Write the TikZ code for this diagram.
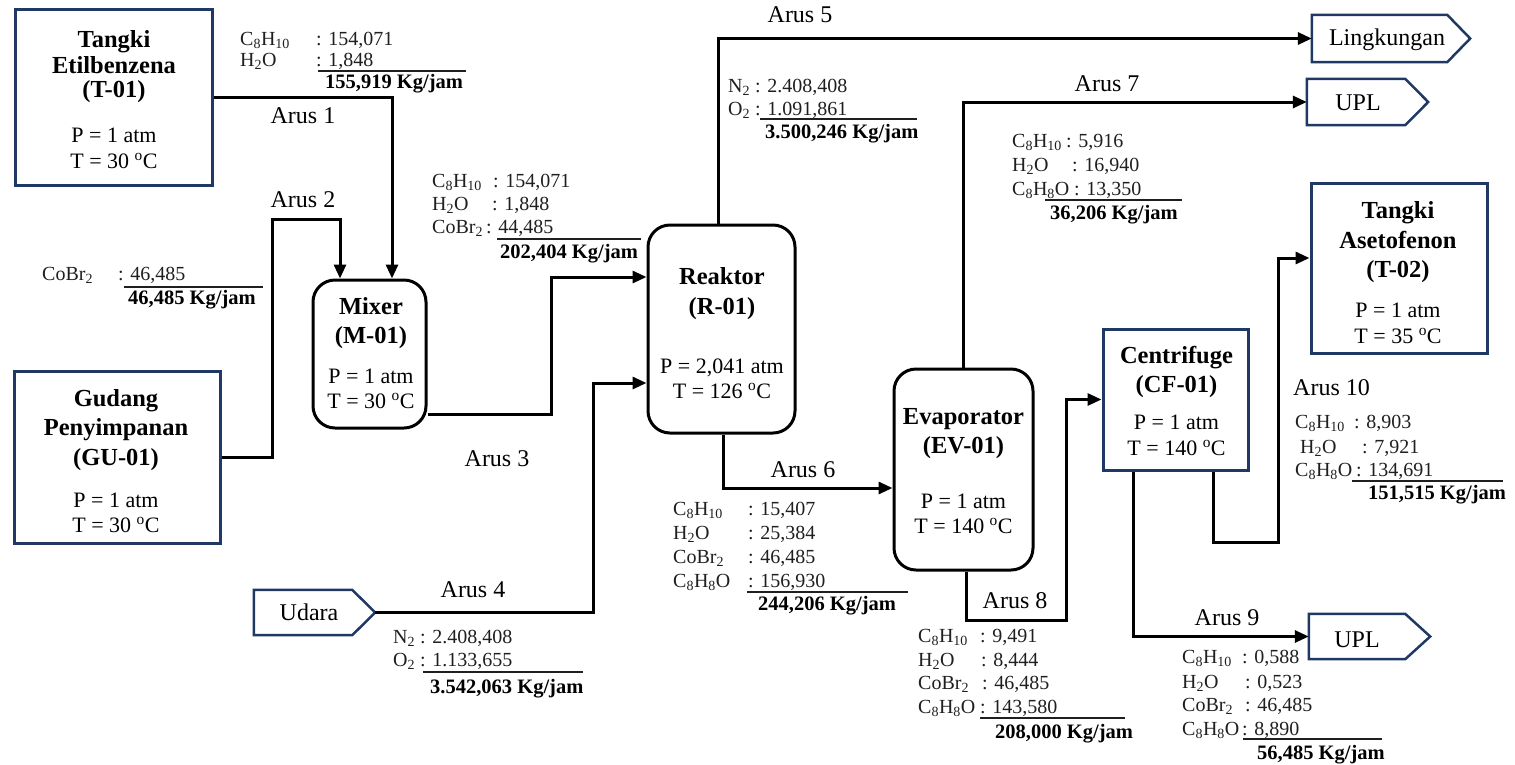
\documentclass[tikz,border=0pt]{standalone}
\usepackage{fontspec}
\setmainfont{Liberation Serif}
\usetikzlibrary{arrows.meta}
\definecolor{navy}{RGB}{32,56,100}
\newcommand\sbt[1]{\textsubscript{#1}}
\newcommand\degC{\textsuperscript{o}C}
\newcommand\drow[6]{\node[dat] (#1n) at (#2,#4) {#5}; \node[dat] (#1v) at (#3,#4) {: #6};}
\begin{document}
\begin{tikzpicture}[x=1pt,y=-1pt,
  tank/.style={draw=navy, line width=3pt, inner sep=0pt},
  unit/.style={draw=black, line width=3pt, rounded corners=22pt, inner sep=0pt},
  flow/.style={line width=3pt, -{Triangle[length=14pt,width=12pt]}},
  sig/.style={inner sep=0pt},
  sigline/.style={draw=navy, line width=2.5pt, line join=miter},
  lbl/.style={font=\fontsize{24}{28}\selectfont, inner sep=0pt, anchor=base},
  dat/.style={font=\fontsize{20}{24}\selectfont, text=black!88, inner sep=0pt, anchor=base west},
  tot/.style={font=\fontsize{20.5}{24}\selectfont\bfseries, inner sep=0pt, anchor=base west},
  ttl/.style={font=\fontsize{24.5}{28}\selectfont\bfseries, inner sep=0pt, anchor=base},
  prm/.style={font=\fontsize{22}{26}\selectfont, inner sep=0pt, anchor=base},
  uline/.style={line width=1.2pt, black!88}]
\useasboundingbox (0,0) rectangle (1515,764);

% ---------- equipment ----------
\node[tank, minimum width=197pt, minimum height=176pt] (t01) at (113.5,97) {};
\node[ttl] (t01a) at (114,47) {Tangki};
\node[ttl] (t01b) at (114,73) {Etilbenzena};
\node[ttl] (t01c) at (114,97) {(T-01)};
\node[prm] (t01d) at (114,142) {P = 1 atm};
\node[prm] (t01e) at (114,168) {T = 30 \degC};

\node[tank, minimum width=206pt, minimum height=172pt] (gu) at (117,457) {};
\node[ttl] (gua) at (116,406) {Gudang};
\node[ttl] (gub) at (116,435) {Penyimpanan};
\node[ttl] (guc) at (116,465) {(GU-01)};
\node[prm] (gud) at (116,507) {P = 1 atm};
\node[prm] (gue) at (116,532) {T = 30 \degC};

\node[unit, minimum width=113pt, minimum height=148pt] (mix) at (369.5,354) {};
\node[ttl] (mixa) at (371,314) {Mixer};
\node[ttl] (mixb) at (371,343) {(M-01)};
\node[prm] (mixc) at (371,383) {P = 1 atm};
\node[prm] (mixd) at (371,408) {T = 30 \degC};

\node[unit, minimum width=147pt, minimum height=208pt] (rea) at (721.5,329) {};
\node[ttl] (reaa) at (722,284) {Reaktor};
\node[ttl] (reab) at (722,314) {(R-01)};
\node[prm] (reac) at (722,373) {P = 2,041 atm};
\node[prm] (read) at (722,398) {T = 126 \degC};

\node[unit, minimum width=139pt, minimum height=201pt] (evap) at (963.5,469.5) {};
\node[ttl] (evapa) at (963.5,424) {Evaporator};
\node[ttl] (evapb) at (963.5,453) {(EV-01)};
\node[prm] (evapc) at (963.5,508) {P = 1 atm};
\node[prm] (evapd) at (963.5,533) {T = 140 \degC};

\node[tank, minimum width=145pt, minimum height=141pt] (cf) at (1175.5,399.5) {};
\node[ttl] (cfa) at (1176.5,363) {Centrifuge};
\node[ttl] (cfb) at (1176.5,392) {(CF-01)};
\node[prm] (cfc) at (1176.5,429) {P = 1 atm};
\node[prm] (cfd) at (1176.5,455) {T = 140 \degC};

\node[tank, minimum width=176pt, minimum height=170pt] (t02) at (1399,268) {};
\node[ttl] (t02a) at (1398,218) {Tangki};
\node[ttl] (t02b) at (1398,248) {Asetofenon};
\node[ttl] (t02c) at (1398,277) {(T-02)};
\node[prm] (t02d) at (1398,317) {P = 1 atm};
\node[prm] (t02e) at (1398,343) {T = 35 \degC};

% ---------- terminals ----------
\node[sig, minimum width=121pt, minimum height=45pt] (udara) at (314.5,612.5) {};
\draw[sigline] (udara.south west) -- (udara.north west) -- ([xshift=-23pt]udara.north east) -- (udara.east) -- ([xshift=-23pt]udara.south east) -- cycle;
\node[lbl] (udarat) at (309,620) {Udara};

\node[sig, minimum width=158pt, minimum height=47pt] (ling) at (1391,38.5) {};
\draw[sigline] (ling.south west) -- (ling.north west) -- ([xshift=-23pt]ling.north east) -- (ling.east) -- ([xshift=-23pt]ling.south east) -- cycle;
\node[lbl] (lingt) at (1387,45) {Lingkungan};

\node[sig, minimum width=121pt, minimum height=46pt] (upla) at (1367.5,102) {};
\draw[sigline] (upla.south west) -- (upla.north west) -- ([xshift=-23pt]upla.north east) -- (upla.east) -- ([xshift=-23pt]upla.south east) -- cycle;
\node[lbl] (uplat) at (1358,110) {UPL};

\node[sig, minimum width=121pt, minimum height=45pt] (uplb) at (1369.5,636.5) {};
\draw[sigline] (uplb.south west) -- (uplb.north west) -- ([xshift=-25pt]uplb.north east) -- (uplb.east) -- ([xshift=-25pt]uplb.south east) -- cycle;
\node[lbl] (uplbt) at (1357,647) {UPL};

% ---------- streams ----------
\draw[flow] (t01.east) -| ([xshift=22.5pt]mix.north);
\draw[flow] (gu.east) -| (272,219) -| ([xshift=-29.5pt]mix.north);
\draw[flow] ([yshift=-60pt]mix.east) -| (551,300) |- ([yshift=52pt]rea.west);
\draw[flow] (udara.east) -| (593,500) |- ([yshift=-54pt]rea.west);
\draw[flow] ([xshift=-3.5pt]rea.north) |- (ling.west);
\draw[flow] ([xshift=1.5pt]rea.south) |- ([yshift=-18.5pt]evap.west);
\draw[flow] (evap.north) |- (upla.west);
\draw[flow] ([xshift=2.5pt]evap.south) |- (1066,620) |- (cf.west);
\draw[flow] ([xshift=-42.5pt]cf.south) |- (uplb.west);
\draw[flow] ([xshift=37.5pt]cf.south) |- (1278,542) |- ([yshift=10pt]t02.west);

% ---------- stream labels ----------
\node[lbl] (a1) at (303,123) {Arus 1};
\node[lbl] (a2) at (303,207) {Arus 2};
\node[lbl] (a3) at (497,466) {Arus 3};
\node[lbl] (a4) at (473,597) {Arus 4};
\node[lbl] (a5) at (800,22) {Arus 5};
\node[lbl] (a6) at (803,477) {Arus 6};
\node[lbl] (a7) at (1107,91) {Arus 7};
\node[lbl] (a8) at (1015,608) {Arus 8};
\node[lbl] (a9) at (1227,625) {Arus 9};
\node[lbl, anchor=base west] (a10) at (1293,395) {Arus 10};

% ---------- compositions ----------
% Arus 1
\drow{s1a}{240}{316}{45}{C\sbt{8}H\sbt{10}}{154,071}
\drow{s1b}{240}{316}{66}{H\sbt{2}O}{1,848}
\draw[uline] (318,71) -- (466,71);
\node[tot] (s1t) at (325,88) {155,919 Kg/jam};
% Arus 2
\drow{s2a}{42}{118}{280}{CoBr\sbt{2}}{46,485}
\draw[uline] (124,287) -- (263,287);
\node[tot] (s2t) at (128,304) {46,485 Kg/jam};
% Arus 3
\drow{s3a}{432}{493}{187}{C\sbt{8}H\sbt{10}}{154,071}
\drow{s3b}{432}{492}{210}{H\sbt{2}O}{1,848}
\drow{s3c}{432}{486}{233}{CoBr\sbt{2}}{44,485}
\draw[uline] (497,239) -- (641,239);
\node[tot] (s3t) at (500,258) {202,404 Kg/jam};
% Arus 4
\node[dat] (s4a) at (393,643) {N\sbt{2} : 2.408,408};
\node[dat] (s4b) at (393,666) {O\sbt{2} : 1.133,655};
\draw[uline] (423,672) -- (583,672);
\node[tot] (s4t) at (430,693) {3.542,063 Kg/jam};
% Arus 5
\node[dat] (s5a) at (728,92) {N\sbt{2} : 2.408,408};
\node[dat] (s5b) at (728,115) {O\sbt{2} : 1.091,861};
\draw[uline] (760,119) -- (917,119);
\node[tot] (s5t) at (765,138) {3.500,246 Kg/jam};
% Arus 7
\drow{s7a}{1012}{1066}{147}{C\sbt{8}H\sbt{10}}{5,916}
\drow{s7b}{1012}{1072}{171}{H\sbt{2}O}{16,940}
\drow{s7c}{1012}{1074}{195}{C\sbt{8}H\sbt{8}O}{13,350}
\draw[uline] (1045,200) -- (1182,200);
\node[tot] (s7t) at (1050,219) {36,206 Kg/jam};
% Arus 6
\drow{s6a}{673}{748}{515}{C\sbt{8}H\sbt{10}}{15,407}
\drow{s6b}{673}{748}{539}{H\sbt{2}O}{25,384}
\drow{s6c}{673}{748}{563}{CoBr\sbt{2}}{46,485}
\drow{s6d}{673}{748}{587}{C\sbt{8}H\sbt{8}O}{156,930}
\draw[uline] (747,592) -- (908,592);
\node[tot] (s6t) at (758,610) {244,206 Kg/jam};
% Arus 8
\drow{s8a}{918}{980}{642}{C\sbt{8}H\sbt{10}}{9,491}
\drow{s8b}{918}{981}{666}{H\sbt{2}O}{8,444}
\drow{s8c}{918}{982}{689}{CoBr\sbt{2}}{46,485}
\drow{s8d}{918}{980}{713}{C\sbt{8}H\sbt{8}O}{143,580}
\draw[uline] (980,718) -- (1125,718);
\node[tot] (s8t) at (995,738) {208,000 Kg/jam};
% Arus 9
\drow{s9a}{1182}{1242}{663}{C\sbt{8}H\sbt{10}}{0,588}
\drow{s9b}{1182}{1245}{688}{H\sbt{2}O}{0,523}
\drow{s9c}{1182}{1245}{711}{CoBr\sbt{2}}{46,485}
\drow{s9d}{1182}{1242}{735}{C\sbt{8}H\sbt{8}O}{8,890}
\draw[uline] (1243,739) -- (1382,739);
\node[tot] (s9t) at (1257,759) {56,485 Kg/jam};
% Arus 10
\drow{s10a}{1295}{1354}{428}{C\sbt{8}H\sbt{10}}{8,903}
\drow{s10b}{1300}{1362}{453}{H\sbt{2}O}{7,921}
\drow{s10c}{1295}{1356}{476}{C\sbt{8}H\sbt{8}O}{134,691}
\draw[uline] (1352,481) -- (1503,481);
\node[tot] (s10t) at (1368,499) {151,515 Kg/jam};
\end{tikzpicture}
\end{document}
